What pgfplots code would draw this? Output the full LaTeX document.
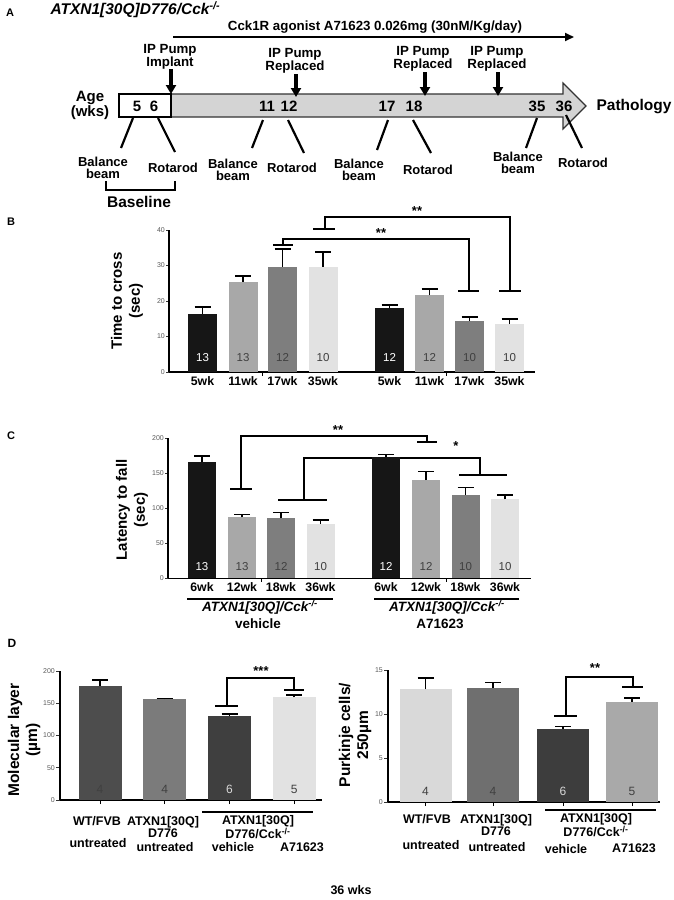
\documentclass[border=0pt]{standalone}
\usepackage{fontspec}
\setmainfont{Liberation Sans}
\usepackage{pgfplots}
\pgfplotsset{compat=1.18}
\usetikzlibrary{arrows.meta}
\newcommand\fs[2]{\fontsize{#1}{#2}\selectfont}
\definecolor{bk}{HTML}{161616}
\definecolor{g1}{HTML}{A8A8A8}
\definecolor{g2}{HTML}{7E7E7E}
\definecolor{g3}{HTML}{E2E2E2}
\definecolor{dl1}{HTML}{4D4D4D}
\definecolor{dl2}{HTML}{7B7B7B}
\definecolor{dl3}{HTML}{3F3F3F}
\definecolor{dl4}{HTML}{E2E2E2}
\definecolor{dr1}{HTML}{D9D9D9}
\definecolor{dr2}{HTML}{6F6F6F}
\definecolor{dr3}{HTML}{3D3D3D}
\definecolor{dr4}{HTML}{A9A9A9}
\definecolor{arr}{HTML}{D4D4D4}
\definecolor{nd}{HTML}{404040}
\tikzset{nlab/.style={font=\fs{11.5}{11.5}, text=nd}}
\pgfplotsset{
  barax/.style={anchor=south west, x=1pt, ymin=0,
    axis x line*=bottom, axis y line*=left,
    axis line style={line width=1.4pt,-},
    tick align=outside, major tick length=3pt,
    ytick style={line width=0.9pt, draw=black!80},
    xtick style={draw=none},
    /pgf/number format/assume math mode=true,
    yticklabel style={font=\fs{7}{8}, text=black!65, inner sep=1pt},
    xticklabel style={font=\bfseries\fs{12.3}{12}, text=black, inner sep=1.5pt},
    clip=false},
  bb/.style={ybar, bar shift=0pt, draw=none,
    error bars/y dir=plus, error bars/y explicit,
    error bars/error bar style={line width=1.6pt, draw=black},
    error bars/error mark options={rotate=90, line width=1.6pt, draw=black, mark size=8pt}},
}
\begin{document}
\begin{tikzpicture}
\useasboundingbox (0,0) rectangle (674pt,-900pt);
\begin{scope}[x=1pt,y=-1pt]
% ---------------- Panel A ----------------
\node[font=\bfseries\fs{11}{11}] at (10,13) {A};
\node[anchor=west, font=\bfseries\itshape\fs{15.5}{15.5}] at (47,10) {ATXN1[30Q]D776/Cck\textsuperscript{-/-}};
\node[font=\bfseries\fs{13.3}{13}] at (375,27) {Cck1R agonist A71623 0.026mg (30nM/Kg/day)};
\draw[line width=2pt, -{Triangle[length=9pt,width=8pt]}] (173,37) -- (574,37);
% big arrow
\draw[line width=1.2pt, draw=black!80, fill=arr] (171,94) -- (563,94) -- (563,83) -- (586,106) -- (563,129) -- (563,117) -- (171,117) -- cycle;
\draw[line width=1.2pt, fill=white] (119,94) rectangle (171,117);
% pump labels and arrows
\node[align=center, font=\bfseries\fs{13.3}{11.5}] at (170,57) {IP Pump\\Implant};
\draw[line width=3.2pt, -{Triangle[length=9pt,width=10pt]}] (171,69) -- (171,94);
\node[align=center, font=\bfseries\fs{13.3}{11.5}] at (295,61) {IP Pump\\Replaced};
\draw[line width=3.2pt, -{Triangle[length=9pt,width=10pt]}] (296,74) -- (296,97);
\node[align=center, font=\bfseries\fs{13.3}{11.5}] at (423,59) {IP Pump\\Replaced};
\draw[line width=3.2pt, -{Triangle[length=9pt,width=10pt]}] (425,72) -- (425,96);
\node[align=center, font=\bfseries\fs{13.3}{11.5}] at (497,59) {IP Pump\\Replaced};
\draw[line width=3.2pt, -{Triangle[length=9pt,width=10pt]}] (498,72) -- (498,96);
% ages
\node[align=center, font=\bfseries\fs{15}{13}] at (90,105) {Age\\(wks)};
\foreach \xx/\tt in {137/5,154/6,267/11,289/12,387/17,414/18,537/35,564/36}
  \node[font=\bfseries\fs{15}{15}] at (\xx,106) {\tt};
\node[font=\bfseries\fs{15.5}{15.5}] at (634,107) {Pathology};
% slanted lines
\foreach \a/\b/\c/\d in {133/118/121/148, 158/118/175/152, 263/120/252/148, 288/120/304/153, 388/120/377/150, 413/120/431/153, 537/118/526/148, 566/115/582/148}
  \draw[line width=2.2pt] (\a,\b) -- (\c,\d);
\node[align=center, font=\bfseries\fs{13}{11.5}] at (103,168) {Balance\\beam};
\node[font=\bfseries\fs{13}{13}] at (173,168) {Rotarod};
\node[align=center, font=\bfseries\fs{13}{11.5}] at (233,170) {Balance\\beam};
\node[font=\bfseries\fs{13}{13}] at (292,168) {Rotarod};
\node[align=center, font=\bfseries\fs{13}{11.5}] at (359,170) {Balance\\beam};
\node[font=\bfseries\fs{13}{13}] at (428,170) {Rotarod};
\node[align=center, font=\bfseries\fs{13}{11.5}] at (518,163) {Balance\\beam};
\node[font=\bfseries\fs{13}{13}] at (583,163) {Rotarod};
\draw[line width=2pt] (106,181) -- (106,190) -- (175,190) -- (175,181);
\node[font=\bfseries\fs{15.5}{15.5}] at (139,202) {Baseline};
% ---------------- Panel B annotations ----------------
\node[font=\bfseries\fs{11}{11}] at (11,222) {B};
\node[rotate=90, align=center, font=\bfseries\fs{15}{18}] at (127,301) {Time to cross\\(sec)};
\draw[line width=1.8pt] (313,229) -- (335,229) (325,229) -- (325,217) -- (510,217) -- (510,291) (499,291) -- (521,291);
\draw[line width=1.8pt] (273,245) -- (293,245) (283,245) -- (283,239) -- (469,239) -- (469,291) (458,291) -- (479,291);
\node[font=\bfseries\fs{13}{13}] at (417,211) {**};
\node[font=\bfseries\fs{13}{13}] at (381,233) {**};
\draw[line width=0.8pt] (262,372) -- (262,376) (446,372) -- (446,376);
% ---------------- Panel C annotations ----------------
\node[font=\bfseries\fs{11}{11}] at (11,436) {C};
\node[rotate=90, align=center, font=\bfseries\fs{15}{18}] at (132,510) {Latency to fall\\(sec)};
\draw[line width=1.8pt] (230,489) -- (252,489) (241,489) -- (241,436) -- (427,436) -- (427,442) (417,442) -- (437,442);
\draw[line width=1.8pt] (278,500) -- (327,500) (304,500) -- (304,458) -- (480,458) -- (480,475) (459,475) -- (507,475);
\node[font=\bfseries\fs{13}{13}] at (338,430) {**};
\node[font=\bfseries\fs{13}{13}] at (456,446) {*};
\draw[line width=0.8pt] (261,578) -- (261,582) (446,578) -- (446,582);
\draw[line width=2pt] (187,599) -- (333,599) (374,599) -- (519,599);
\node[font=\bfseries\itshape\fs{13.5}{13.5}] at (260,607) {ATXN1[30Q]/Cck\textsuperscript{-/-}};
\node[font=\bfseries\fs{13.5}{13.5}] at (258,624) {vehicle};
\node[font=\bfseries\itshape\fs{13.5}{13.5}] at (447,607) {ATXN1[30Q]/Cck\textsuperscript{-/-}};
\node[font=\bfseries\fs{13.5}{13.5}] at (440,624) {A71623};
% ---------------- Panel D annotations ----------------
\node[font=\bfseries\fs{12}{12}] at (12,643) {D};
\node[rotate=90, align=center, font=\bfseries\fs{15.5}{18}] at (24,740) {Molecular layer\\(µm)};
\node[rotate=90, align=center, font=\bfseries\fs{15.5}{18}] at (355,735) {Purkinje cells/\\250µm};
\draw[line width=1.8pt] (215,706) -- (238,706) (227,706) -- (227,678) -- (294,678) -- (294,690) (284,690) -- (304,690);
\node[font=\bfseries\fs{13}{13}] at (261,671) {***};
\draw[line width=1.8pt] (554,716) -- (577,716) (566,716) -- (566,677) -- (633,677) -- (633,687) (622,687) -- (643,687);
\node[font=\bfseries\fs{13}{13}] at (595,668) {**};
\draw[line width=1.2pt] (202,812) -- (313,812) (545,810) -- (656,810);
\begin{scope}[every node/.style={font=\bfseries\fs{12.5}{12}, align=center}]
\node at (97,821) {WT/FVB};
\node at (163,827) {ATXN1[30Q]\\D776};
\node at (98,843) {untreated};
\node at (165,847) {untreated};
\node at (258,827) {ATXN1[30Q]\\D776/Cck\textsuperscript{-/-}};
\node at (233,847) {vehicle};
\node at (302,847) {A71623};
\node at (427,819) {WT/FVB};
\node at (496,825) {ATXN1[30Q]\\D776};
\node at (431,845) {untreated};
\node at (497,847) {untreated};
\node at (596,825) {ATXN1[30Q]\\D776/Cck\textsuperscript{-/-}};
\node at (566,849) {vehicle};
\node at (634,848) {A71623};
\node at (351,890) {36 wks};
\end{scope}
\end{scope}

% ---------------- Panel B axis ----------------
\begin{axis}[barax, at={(169pt,-372pt)}, xmin=169, xmax=535, y=3.55pt, ymax=40,
  ytick={0,10,20,30,40},
  xtick={202.5,243,282.5,323,389.5,429.5,469.5,509.5},
  xticklabels={5wk,11wk,17wk,35wk,5wk,11wk,17wk,35wk}]
\addplot[bb, fill=bk, bar width=29pt] coordinates {(202.5,16.3) +- (0,2.0)};
\addplot[bb, fill=g1, bar width=29pt] coordinates {(243,25.4) +- (0,1.6)};
\addplot[bb, fill=g2, bar width=29pt] coordinates {(282.5,29.6) +- (0,5.0)};
\addplot[bb, fill=g3, bar width=29pt] coordinates {(323,29.6) +- (0,4.2)};
\addplot[bb, fill=bk, bar width=29pt] coordinates {(389.5,18.0) +- (0,0.9)};
\addplot[bb, fill=g1, bar width=29pt] coordinates {(429.5,21.6) +- (0,1.7)};
\addplot[bb, fill=g2, bar width=29pt] coordinates {(469.5,14.4) +- (0,1.1)};
\addplot[bb, fill=g3, bar width=29pt] coordinates {(509.5,13.5) +- (0,1.4)};
\node[nlab, text=white] at (axis cs:202.5,4) {13};
\node[nlab] at (axis cs:243,4) {13};
\node[nlab] at (axis cs:282.5,4) {12};
\node[nlab] at (axis cs:323,4) {10};
\node[nlab, text=white] at (axis cs:389.5,4) {12};
\node[nlab] at (axis cs:429.5,4) {12};
\node[nlab] at (axis cs:469.5,4) {10};
\node[nlab] at (axis cs:509.5,4) {10};
\end{axis}

% ---------------- Panel C axis ----------------
\begin{axis}[barax, at={(168pt,-578.3pt)}, xmin=168, xmax=531, y=0.7pt, ymax=200,
  ytick={0,50,100,150,200},
  xtick={202,242,281,320.5,386,426,465.5,505},
  xticklabels={6wk,12wk,18wk,36wk,6wk,12wk,18wk,36wk}]
\addplot[bb, fill=bk, bar width=28pt] coordinates {(202,166) +- (0,8.7)};
\addplot[bb, fill=g1, bar width=28pt] coordinates {(242,87.1) +- (0,4.3)};
\addplot[bb, fill=g2, bar width=28pt] coordinates {(281,85.7) +- (0,8.1)};
\addplot[bb, fill=g3, bar width=28pt] coordinates {(320.5,77.6) +- (0,5.7)};
\addplot[bb, fill=bk, bar width=28pt] coordinates {(386,173.8) +- (0,3.3)};
\addplot[bb, fill=g1, bar width=28pt] coordinates {(426,140.4) +- (0,11.9)};
\addplot[bb, fill=g2, bar width=28pt] coordinates {(465.5,119) +- (0,10.5)};
\addplot[bb, fill=g3, bar width=28pt] coordinates {(505,112.8) +- (0,6.2)};
\node[nlab, text=white] at (axis cs:202,17) {13};
\node[nlab] at (axis cs:242,17) {13};
\node[nlab] at (axis cs:281,17) {12};
\node[nlab] at (axis cs:320.5,17) {10};
\node[nlab, text=white] at (axis cs:386,17) {12};
\node[nlab] at (axis cs:426,17) {12};
\node[nlab] at (axis cs:465.5,17) {10};
\node[nlab] at (axis cs:505,17) {10};
\end{axis}

% ---------------- Panel D left ----------------
\begin{axis}[barax, at={(60pt,-800pt)}, xmin=60, xmax=322, y=0.645pt, ymax=200,
  ytick={0,50,100,150,200},
  xtick={100,164.7,229.5,294.2}, xticklabels={},
  xtick style={draw=black, line width=1pt}, major tick length=4pt]
\addplot[bb, fill=dl1, bar width=43pt] coordinates {(100,176.7) +- (0,9.3)};
\addplot[bb, fill=dl2, bar width=43pt] coordinates {(164.7,156) +- (0,1.6)};
\addplot[bb, fill=dl3, bar width=43pt] coordinates {(229.5,130.2) +- (0,3.1)};
\addplot[bb, fill=dl4, bar width=43pt] coordinates {(294.2,159.2) +- (0,3.6)};
\node[nlab, font=\fs{12}{12}, text=black!75] at (axis cs:100,17) {4};
\node[nlab, font=\fs{12}{12}] at (axis cs:164.7,17) {4};
\node[nlab, font=\fs{12}{12}, text=black!15] at (axis cs:229.5,17) {6};
\node[nlab, font=\fs{12}{12}] at (axis cs:294.2,17) {5};
\end{axis}

% ---------------- Panel D right ----------------
\begin{axis}[barax, at={(388pt,-802pt)}, xmin=388, xmax=660, y=8.8pt, ymax=15,
  ytick={0,5,10,15},
  xtick={425.5,493,563,632}, xticklabels={},
  xtick style={draw=black, line width=1pt}, major tick length=4pt]
\addplot[bb, fill=dr1, bar width=52pt] coordinates {(425.5,12.8) +- (0,1.3)};
\addplot[bb, fill=dr2, bar width=52pt] coordinates {(493,13.0) +- (0,0.6)};
\addplot[bb, fill=dr3, bar width=52pt] coordinates {(563,8.26) +- (0,0.3)};
\addplot[bb, fill=dr4, bar width=52pt] coordinates {(632,11.4) +- (0,0.4)};
\node[nlab, font=\fs{12}{12}] at (axis cs:425.5,1.25) {4};
\node[nlab, font=\fs{12}{12}] at (axis cs:493,1.25) {4};
\node[nlab, font=\fs{12}{12}, text=black!15] at (axis cs:563,1.25) {6};
\node[nlab, font=\fs{12}{12}] at (axis cs:632,1.25) {5};
\end{axis}
\end{tikzpicture}
\end{document}
